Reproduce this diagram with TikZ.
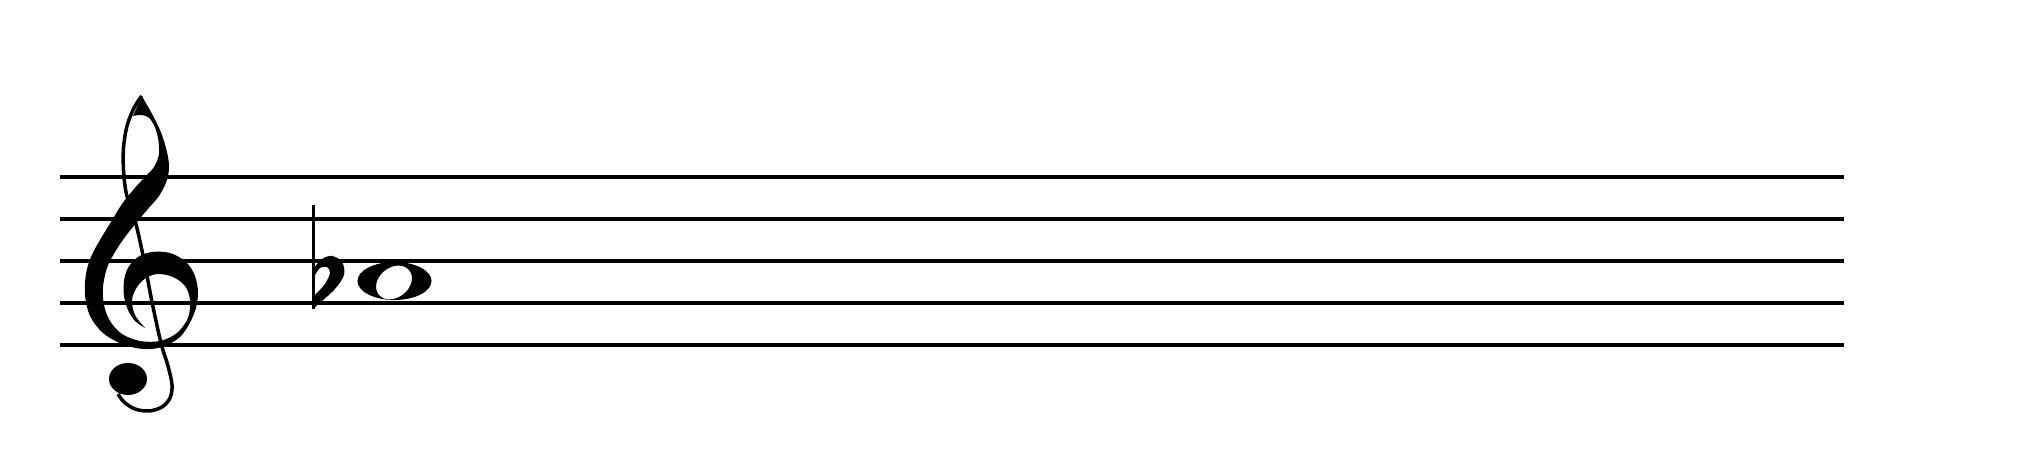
\documentclass[tikz,border=0pt]{standalone}
\begin{document}
\begin{tikzpicture}[x=0.01cm,y=-0.01cm,
  staffline/.style={line width=0.04cm},
  thinstroke/.style={line width=0.035cm},
  curve/.style={smooth,tension=0.55}]
\useasboundingbox (0,0) rectangle (2032,456);
% staff
\foreach \i in {0,...,4}
  \draw[staffline] (60,177.5+42*\i) -- (1844,177.5+42*\i);
% treble clef: thick body
\fill plot[curve] coordinates {(141.7,96) (151,112) (160,130) (166,148) (169,165)
    (167,180) (159,196) (147,210) (137,222) (125,237) (115,252) (107,268) (103,287)
    (104,305) (110,321) (122,334) (140,341) (160,341) (177,333) (188,318) (190,300)
    (185,286) (173,277) (158,274) (146,278) (137,287) (132,300) (135,315) (145,328)}
  -- plot[curve] coordinates {(145,328) (135,321) (128,310) (124,296) (124,281)
    (128,268) (138,257) (152,252) (170,253) (186,262) (195,276) (198,294) (194,314)
    (181,336) (162,347) (143,349) (122,344) (103,333) (90,316) (85,295) (86,274)
    (91,257) (100,240) (111,222) (122,204) (134,189) (145,177) (154,167) (159,154)
    (158,138) (154,125) (148,117) (140,115) (133,116)} -- (141.7,96) -- cycle;
% treble clef: thin stroke and ball
\draw[thinstroke] plot[curve] coordinates {(141.7,96) (134,108) (127,126) (123.5,148)
    (123.5,170) (126,192) (131,208) (136,224) (144,260) (152,302) (161,343) (168,366)
    (172,385) (170,398) (162,407) (149,411) (135,409) (124,402) (118,394)};
\coordinate (ball) at (128,379);
\fill (ball) ellipse [x radius=0.19cm, y radius=0.16cm];
% flat
\draw[line width=0.035cm] (313.5,205) -- (313.5,309);
\fill plot[curve] coordinates {(314,268) (322,259) (332,256) (342,262) (344,275)
    (334,290) (315,307)}
  -- plot[curve] coordinates {(315,295) (325,284) (330,273) (327,267) (320,268)
    (315,275)} -- cycle;
% whole note, tilted hole
\coordinate (note) at (394.5,281);
\fill[even odd rule] (note) ellipse [x radius=0.37cm, y radius=0.19cm]
  plot[domain=0:360, samples=72, variable=\t]
    ({394 + 19.5*cos(\t)*cos(38) - 15*sin(\t)*sin(38)},
     {282.5 - 19.5*cos(\t)*sin(38) - 15*sin(\t)*cos(38)}) -- cycle;
\end{tikzpicture}
\end{document}
